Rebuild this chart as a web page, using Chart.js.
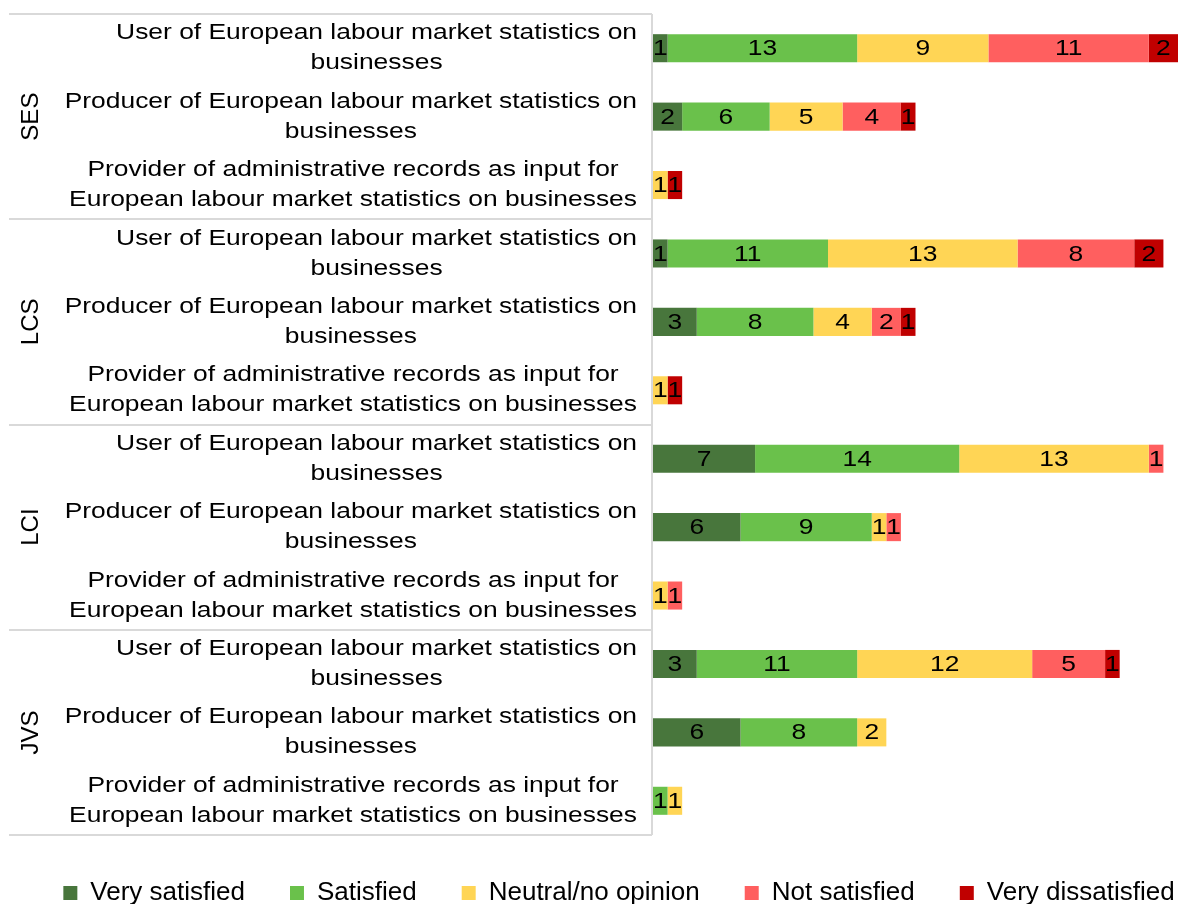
<!DOCTYPE html>
<html><head><meta charset="utf-8">
<script src="https://cdn.jsdelivr.net/npm/chart.js@4/dist/chart.umd.min.js"></script>
<style>html,body{margin:0;padding:0;background:#fff;}canvas{display:block}</style>
</head><body>
<canvas id="c" width="1178" height="904"></canvas>
<script>
const groups = ['SES', 'LCS', 'LCI', 'JVS'];
const roles = [
  ['User of European labour market statistics on', 'businesses'],
  ['Producer of European labour market statistics on', 'businesses'],
  ['Provider of administrative records as input for', 'European labour market statistics on businesses']
];
const seriesNames = ['Very satisfied', 'Satisfied', 'Neutral/no opinion', 'Not satisfied', 'Very dissatisfied'];
const verySatisfied    = [1, 2, 0,   1, 3, 0,   7, 6, 0,   3, 6, 0];
const satisfied        = [13, 6, 0,  11, 8, 0,  14, 9, 0,  11, 8, 1];
const neutral          = [9, 5, 1,   13, 4, 1,  13, 1, 1,  12, 2, 1];
const notSatisfied     = [11, 4, 0,  8, 2, 0,   1, 1, 1,   5, 0, 0];
const veryDissatisfied = [2, 1, 1,   2, 1, 1,   0, 0, 0,   1, 0, 0];
const seriesColors = ['#48763C', '#6AC14B', '#FFD555', '#FF5F5F', '#C00000'];

const categories = groups.flatMap(g => roles.map(r => g + ' – ' + r.join(' ')));
const seriesValues = [verySatisfied, satisfied, neutral, notSatisfied, veryDissatisfied];

const FONT = '"Liberation Sans", Arial, sans-serif';
const STRETCH = 1.2;
const LABEL_RIGHT = 637;

function stretchedText(ctx, text, x, y) {
  ctx.save(); ctx.translate(x, y); ctx.scale(STRETCH, 1); ctx.fillText(text, 0, 0); ctx.restore();
}

const decor = {
  id: 'decor',
  beforeDatasetsDraw(chart) {
    const ctx = chart.ctx, ca = chart.chartArea;
    const rowH = (ca.bottom - ca.top) / categories.length;
    ctx.save();
    ctx.strokeStyle = '#d9d9d9'; ctx.lineWidth = 2;
    ctx.beginPath();
    ctx.moveTo(ca.left - 1, ca.top); ctx.lineTo(ca.left - 1, ca.bottom);
    for (let g = 0; g <= groups.length; g++) {
      const y = Math.round(ca.top + g * 3 * rowH);
      ctx.moveTo(9, y); ctx.lineTo(ca.left - 1, y);
    }
    ctx.stroke();
    ctx.restore();
  },
  afterDatasetsDraw(chart) {
    const ctx = chart.ctx, ys = chart.scales.y;
    ctx.save();
    ctx.fillStyle = '#000'; ctx.textAlign = 'center'; ctx.textBaseline = 'middle';
    ctx.font = '22px ' + FONT;
    chart.data.datasets.forEach((ds, di) => {
      const meta = chart.getDatasetMeta(di);
      meta.data.forEach((el, i) => {
        const v = ds.data[i];
        if (!v) return;
        stretchedText(ctx, String(v), (el.x + el.base) / 2, el.y + 1);
      });
    });
    categories.forEach((c, i) => {
      const lines = roles[i % 3];
      const w = Math.max(...lines.map(l => ctx.measureText(l).width)) * STRETCH;
      const cx = LABEL_RIGHT - w / 2;
      const yc = ys.getPixelForValue(i);
      lines.forEach((l, k) => stretchedText(ctx, l, cx, yc + (k - (lines.length - 1) / 2) * 30));
    });
    ctx.font = '24px ' + FONT;
    groups.forEach((g, gi) => {
      const y = (ys.getPixelForValue(gi * 3) + ys.getPixelForValue(gi * 3 + 2)) / 2;
      ctx.save(); ctx.translate(31, y); ctx.rotate(-Math.PI / 2); ctx.fillText(g, 0, 0); ctx.restore();
    });
    ctx.restore();
  }
};

new Chart(document.getElementById('c'), {
  type: 'bar',
  data: {
    labels: categories,
    datasets: seriesNames.map((n, i) => ({
      label: n, data: seriesValues[i], backgroundColor: seriesColors[i], borderWidth: 0,
      barPercentage: 0.41, categoryPercentage: 1
    }))
  },
  options: {
    indexAxis: 'y', responsive: false, animation: false, devicePixelRatio: 1,
    layout: { padding: { left: 10, right: -50, top: 14, bottom: -12 } },
    scales: {
      x: { stacked: true, min: 0, max: 36, display: false },
      y: { stacked: true, display: true, ticks: { display: false }, grid: { display: false },
           border: { display: false }, afterFit(s) { s.width = 643; } }
    },
    plugins: {
      legend: { position: 'bottom', labels: { boxWidth: 14, boxHeight: 14, padding: 45, color: '#000',
                font: { family: FONT, size: 26 } } },
      tooltip: { enabled: false }
    }
  },
  plugins: [decor]
});
</script>
</body></html>
